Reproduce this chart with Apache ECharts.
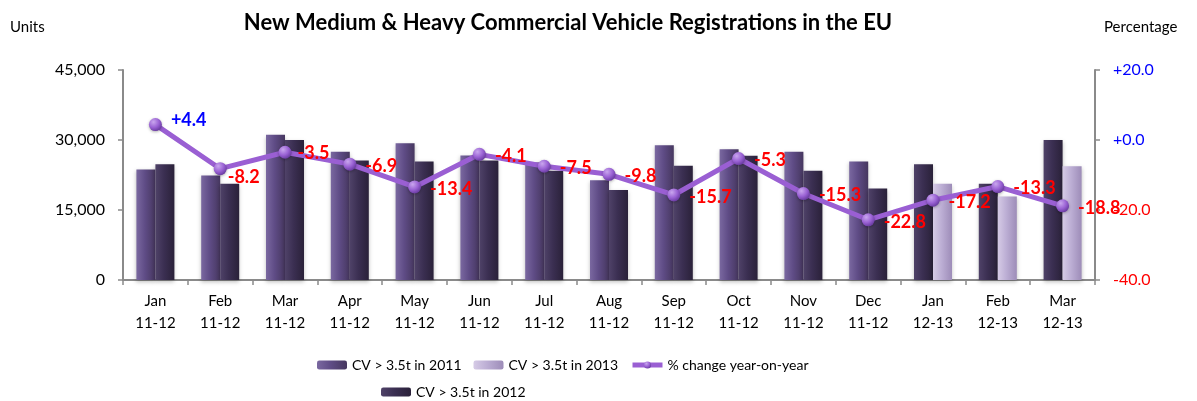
<!DOCTYPE html>
<html>
<head>
<meta charset="utf-8">
<script src="https://cdn.jsdelivr.net/npm/echarts@6/dist/echarts.min.js"></script>
<style>
html,body{margin:0;padding:0;background:#fff;}
#chart{width:1197px;height:401px;}
</style>
</head>
<body>
<div id="chart"></div>
<script>
var months = ['Jan','Feb','Mar','Apr','May','Jun','Jul','Aug','Sep','Oct','Nov','Dec','Jan','Feb','Mar'];
var periods = ['11-12','11-12','11-12','11-12','11-12','11-12','11-12','11-12','11-12','11-12','11-12','11-12','12-13','12-13','12-13'];
var cv2011 = [23700, 22400, 31100, 27500, 29300, 26700, 25200, 21400, 28900, 28000, 27500, 25400];
var cv2012 = [24800, 20600, 30000, 25600, 25400, 25600, 23400, 19300, 24500, 26600, 23400, 19600];
var cv2013 = [20600, 17900, 24400];
var pctChange = [4.4, -8.2, -3.5, -6.9, -13.4, -4.1, -7.5, -9.8, -15.7, -5.3, -15.3, -22.8, -17.2, -13.3, -18.8];
var leftTicks = [0, 15000, 30000, 45000];
var rightTicks = [-40, -20, 0, 20];

var FONT = 'Lato, "Open Sans", sans-serif';
var categories = months.map(function (m, i) { return m + '\n' + periods[i]; });
var n12 = cv2011.length;
function pad(arr, before, after) {
  var out = [];
  for (var i = 0; i < before; i++) out.push('-');
  arr.forEach(function (v) { out.push(v); });
  for (var j = 0; j < after; j++) out.push('-');
  return out;
}
function grad(c1, c2, c3) {
  return new echarts.graphic.LinearGradient(0, 0, 1, 0, [
    {offset: 0, color: c1}, {offset: 0.45, color: c2}, {offset: 1, color: c3}
  ]);
}
var col2011 = grad('#7a68a0', '#5f4c86', '#46375f');
var col2012 = grad('#4f4268', '#3b2f52', '#2a2139');
var col2013 = grad('#d6cbe6', '#bcaed4', '#9d8cb8');
var shadow = {shadowColor: 'rgba(0,0,0,0.25)', shadowBlur: 4, shadowOffsetY: 2};

function fmtPct(v) { return (v >= 0 ? '+' : '') + v.toFixed(1); }
var lineData = pctChange.map(function (v, i) {
  var lbl = {color: v >= 0 ? '#0000ff' : '#ff0000'};
  if (i === 0) { lbl.offset = [0, -4]; }
  if (i === 1) { lbl.offset = [-8, 8]; }
  if (i === 2) { lbl.offset = [-3, 1]; }
  return {value: v, label: lbl};
});
var markerColor = function () {
  return new echarts.graphic.RadialGradient(0.35, 0.3, 0.7, [
    {offset: 0, color: '#c9a6ee'}, {offset: 0.6, color: '#9a62d4'}, {offset: 1, color: '#6e3fa6'}
  ]);
};

var n = n12 + cv2013.length;
var barCommon = {type: 'bar', barWidth: 19, barGap: '0%', yAxisIndex: 0};
var legendText = {fontFamily: FONT, fontSize: 14, color: '#000'};
var option = {
  animation: false,
  backgroundColor: '#ffffff',
  textStyle: {fontFamily: FONT},
  title: {
    text: 'New Medium & Heavy Commercial Vehicle Registrations in the EU',
    left: 563, top: 7, textAlign: 'center',
    textStyle: {fontFamily: FONT, fontSize: 22, fontWeight: 'bold', color: '#000'}
  },
  graphic: [
    {type: 'text', left: 10, top: 20, style: {text: 'Units', fontFamily: FONT, fontSize: 15, fill: '#000'}},
    {type: 'text', left: 1104, top: 20, style: {text: 'Percentage', fontFamily: FONT, fontSize: 15, fill: '#000'}}
  ],
  legend: [
    {
      left: 317, top: 358, padding: 0, itemWidth: 30, itemHeight: 9, itemGap: 12,
      textStyle: legendText,
      data: [
        'CV > 3.5t in 2011',
        'CV > 3.5t in 2013',
        {name: '% change year-on-year', lineStyle: {width: 5, color: '#9a5fd3'}}
      ]
    },
    {
      left: 381, top: 385, padding: 0, itemWidth: 30, itemHeight: 9,
      textStyle: legendText,
      data: ['CV > 3.5t in 2012']
    }
  ],
  grid: {left: 123, right: 102, top: 70, bottom: 121, containLabel: false},
  xAxis: {
    type: 'category', data: categories,
    axisLine: {lineStyle: {color: '#8a8a8a', width: 2}},
    axisTick: {show: true, length: 5, lineStyle: {color: '#8a8a8a', width: 1.5}},
    axisLabel: {fontFamily: FONT, fontSize: 15, color: '#000', lineHeight: 22, margin: 10, interval: 0}
  },
  yAxis: [
    {
      type: 'value', min: leftTicks[0], max: leftTicks[leftTicks.length - 1], interval: leftTicks[1] - leftTicks[0],
      axisLine: {show: true, lineStyle: {color: '#8a8a8a', width: 2}},
      axisTick: {show: true, length: 5, lineStyle: {color: '#8a8a8a', width: 1.5}},
      splitLine: {show: false},
      axisLabel: {
        fontFamily: FONT, fontSize: 16, color: '#000', margin: 18,
        formatter: function (v) { return v.toLocaleString('en-US'); }
      }
    },
    {
      type: 'value', min: rightTicks[0], max: rightTicks[rightTicks.length - 1], interval: rightTicks[1] - rightTicks[0],
      position: 'right',
      axisLine: {show: true, lineStyle: {color: '#8a8a8a', width: 2}},
      axisTick: {show: true, length: 5, lineStyle: {color: '#8a8a8a', width: 1.5}},
      splitLine: {show: false},
      axisLabel: {
        fontFamily: FONT, fontSize: 16, margin: 18,
        formatter: function (v) { return v >= 0 ? '{p|' + fmtPct(v) + '}' : '{m|' + fmtPct(v) + '}'; },
        rich: {
          p: {color: '#0000ff', fontSize: 16, fontFamily: FONT},
          m: {color: '#ff0000', fontSize: 16, fontFamily: FONT}
        }
      }
    }
  ],
  series: [
    Object.assign({}, barCommon, {
      name: 'CV > 3.5t in 2011', stack: 'L',
      itemStyle: Object.assign({color: col2011}, shadow),
      data: pad(cv2011, 0, n - n12)
    }),
    Object.assign({}, barCommon, {
      name: 'CV > 3.5t in 2012', stack: 'L',
      itemStyle: Object.assign({color: col2012}, shadow),
      data: pad(cv2012.slice(0, cv2013.length), n12, 0)
    }),
    Object.assign({}, barCommon, {
      name: 'CV > 3.5t in 2012', stack: 'R',
      itemStyle: Object.assign({color: col2012}, shadow),
      data: pad(cv2012, 0, n - n12)
    }),
    Object.assign({}, barCommon, {
      name: 'CV > 3.5t in 2013', stack: 'R',
      itemStyle: Object.assign({color: col2013}, shadow),
      data: pad(cv2013, n12, 0)
    }),
    {
      name: '% change year-on-year', type: 'line', yAxisIndex: 1,
      data: lineData,
      symbol: 'circle', symbolSize: 13,
      z: 5,
      lineStyle: {color: '#9a5fd3', width: 5},
      itemStyle: {
        color: markerColor(),
        borderWidth: 0,
        shadowColor: 'rgba(0,0,0,0.3)', shadowBlur: 3, shadowOffsetY: 1
      },
      label: {
        show: true, position: 'right', distance: 9, offset: [0, 2],
        fontFamily: FONT, fontSize: 18, fontWeight: 'bold',
        formatter: function (p) { return fmtPct(p.value); }
      }
    }
  ]
};
var chart = echarts.init(document.getElementById('chart'), null, {renderer: 'canvas'});
chart.setOption(option);
</script>
</body>
</html>
